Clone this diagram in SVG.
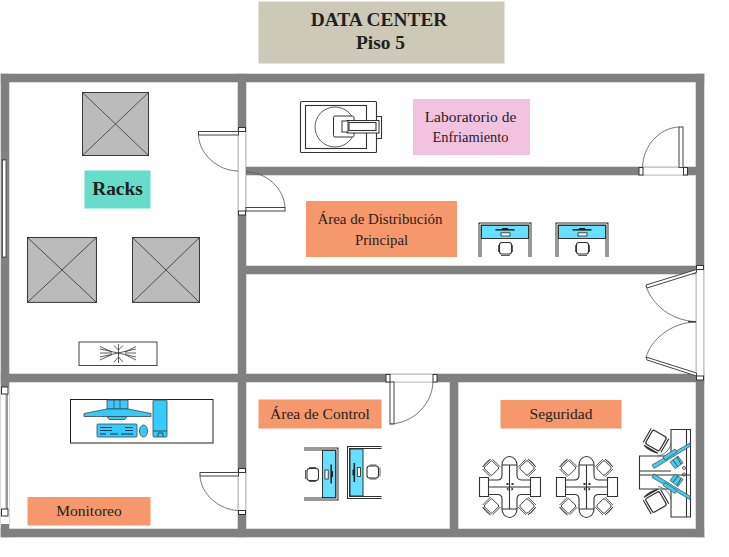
<svg xmlns="http://www.w3.org/2000/svg" xmlns:xlink="http://www.w3.org/1999/xlink" width="729" height="557" viewBox="0 0 729 557">
<style>
text{font-family:"Liberation Serif","Times New Roman",serif;fill:#1f1f1f;text-anchor:middle}
.l{font-size:15.5px}
.b{font-weight:bold;font-size:19.400px}
.wall{fill:#808080}
.gap{fill:#fff;stroke:#c8c8c8;stroke-width:1}
.hinge{fill:#fff;stroke:#333;stroke-width:1}
.leaf{fill:#fff;stroke:#444;stroke-width:1}
.arc{fill:none;stroke:#555;stroke-width:.8}
.rack{fill:#bbb;stroke:#3a3a3a;stroke-width:1}
.thin{fill:none;stroke:#333;stroke-width:.8}
.th{fill:none;stroke:#333;stroke-width:1.1}
.blue{fill:#66e0ff;stroke:#333;stroke-width:1}
.mon{fill:#33ccff;stroke:#444;stroke-width:.8}
.cb{fill:#44ccee;stroke:#444;stroke-width:.7}
</style>
<defs>
<g id="wallshape">
<rect class="wall" x="1" y="74" width="703" height="8"/>
<rect class="wall" x="1" y="74" width="8" height="463"/>
<rect class="wall" x="696" y="74" width="8" height="463"/>
<rect class="wall" x="1" y="529" width="703" height="8"/>
<rect class="wall" x="238" y="74" width="8" height="463"/>
<rect class="wall" x="246" y="167" width="450" height="8"/>
<rect class="wall" x="246" y="266" width="450" height="8"/>
<rect class="wall" x="1" y="374" width="703" height="8"/>
<rect class="wall" x="450" y="382" width="8" height="147"/>
</g>
<g id="rk"><rect class="rack" width="66" height="63"/><path class="thin" d="M0 0L66 63M66 0L0 63"/></g>
<g id="desk">
<path d="M1 34V1H51V34" fill="none" stroke="#333" stroke-width="3"/><path d="M1 34V1H51V34" fill="none" stroke="#fff" stroke-width="1"/>
<rect class="blue" x="2.500" y="2.500" width="47" height="13"/>
<rect x="16.500" y="6" width="19" height="1.600" fill="#222"/><rect x="23" y="5" width="6" height="1.500" fill="#222"/>
<rect x="22" y="9.800" width="9" height="3.200" fill="#fff" stroke="#222" stroke-width=".8"/>
<rect class="th" x="20.500" y="19.500" width="12" height="11.500" rx="2.500"/><path class="thin" d="M19.500 22V29M33.500 22V29M22 32.500H31"/>
</g>
<g id="chair"><rect x="-5.500" y="-5.500" width="11" height="11" rx="1.500" fill="#fff" stroke="#333" stroke-width=".9"/><path class="thin" d="M-7 -5.500V5.500Q-8.500 0 -7 -5.500M-5.500 -7H5.500M-5.500 7H5.500"/></g>
<g id="pod">
<path class="th" d="M-30 -9.500H-21V-7H-12Q-7.500 -7 -7.500 -12V-22A7.500 8.500 0 0 1 7.500 -22V-12Q7.500 -7 12 -7H21V-9.500H31V9.500H21V7.500H12Q7.500 7.500 7.500 12V22A7.500 8.500 0 0 1 -7.500 22V12Q-7.500 7.500 -12 7.500H-21V9.500H-30Z"/>
<path class="th" d="M0 -22V22M-21 0H21M-21 -7V7.500M21 -7V7.500M-7.500 -22H7.500M-7.500 22H7.500"/>
<path fill="#333" d="M-3 -4h2v2h-2zM2 -4h2v2h-2zM-3 2l2 2v-4zM4 2l-2 2v-4z"/>
<use xlink:href="#chair" href="#chair" transform="translate(-18 -19) rotate(45)"/>
<use xlink:href="#chair" href="#chair" transform="translate(17.500 -19) rotate(135)"/>
<use xlink:href="#chair" href="#chair" transform="translate(-18 19) rotate(-45)"/>
<use xlink:href="#chair" href="#chair" transform="translate(17.500 19) rotate(-135)"/>
</g>
<g id="cub">
<path class="arc" d="M658 456C664 455 670 450 671 443"/>
<path class="cb" d="M652 465L690 443L690.500 446L654 468.500Z"/>
<path class="cb" d="M663 457L675 449L677 452L665 460Z"/>
<path class="cb" d="M670 462L678 456L683 463L675 468.500Z"/><path class="thin" d="M673 460L678 467M677 457L681 464"/>
<circle class="thin" cx="684" cy="468" r="1.500"/>
<use xlink:href="#chair" href="#chair" transform="translate(656 440.500) rotate(-60) scale(1.450)"/>
</g>
</defs>

<g id="walls">
<use xlink:href="#wallshape" href="#wallshape" stroke="#b8b8b8" stroke-width="1"/>
<use xlink:href="#wallshape" href="#wallshape"/>
</g>

<g id="openings">
<rect x="1.500" y="159.500" width="7" height="98" fill="#fff" stroke="#777"/><rect x="5.500" y="160" width="3" height="97" fill="#888"/><rect x="2.500" y="160" width="3.500" height="97" fill="#fff" stroke="#333" stroke-width=".8"/>
<rect x="1" y="387" width="8" height="137" fill="#fff"/><rect x="5.500" y="392" width="2.500" height="122" fill="#999"/><rect class="hinge" x="1.500" y="387" width="6.500" height="7"/><rect class="hinge" x="1.500" y="509" width="6.500" height="7"/>
<rect class="gap" x="238.500" y="131" width="7" height="81"/>
<rect class="hinge" x="238.500" y="127.500" width="7" height="4"/><rect class="hinge" x="238.500" y="211" width="7" height="4"/>
<rect class="leaf" x="198.500" y="131.500" width="40" height="3.500"/><path class="arc" d="M198.500 135C199 154 218 171 238 171"/>
<rect class="leaf" x="246" y="207.500" width="39" height="3.500"/><path class="arc" d="M285 207.500C284 188 266 172 246 172"/>
<rect class="gap" x="642.500" y="167.500" width="41" height="7.500"/>
<rect class="hinge" x="639" y="167.500" width="4" height="7.500"/><rect class="hinge" x="683.500" y="167.500" width="4" height="7.500"/>
<rect class="leaf" x="679" y="127" width="4" height="40.500"/><path class="arc" d="M642.500 167.500C643 146 659 128 679 127"/>
<rect class="gap" x="389" y="374.500" width="45" height="7.500"/>
<rect class="hinge" x="386" y="374.500" width="4" height="7.500"/><rect class="hinge" x="433" y="374.500" width="4" height="7.500"/>
<rect class="leaf" x="390" y="382" width="4" height="42"/><path class="arc" d="M433 382C432 404 414 423 390 424"/>
<rect class="gap" x="238.500" y="472" width="7" height="39"/>
<rect class="hinge" x="238.500" y="468.500" width="7" height="4"/><rect class="hinge" x="238.500" y="510.500" width="7" height="4"/>
<rect class="leaf" x="200" y="472.500" width="38.500" height="3.500"/><path class="arc" d="M200 476C201 494 219 510 238.500 510.500"/>
<rect class="gap" x="696.500" y="269" width="7" height="108"/>
<rect class="hinge" x="696.500" y="265.500" width="7" height="4"/><rect class="hinge" x="696.500" y="376" width="7" height="4"/>
<path class="leaf" d="M646 285L696.500 269.500V272.500L647 288Z"/><path class="leaf" d="M646 357L696.500 373V376L647 360Z"/>
<path class="arc" d="M646 286C652 305 672 321 696 321.500"/><path class="arc" d="M646 358C650 340 672 322 696 322"/>
<rect x="688" y="321" width="8" height="1.500" fill="#444"/>
</g>

<g id="title"><rect x="258.500" y="1.500" width="246" height="62" fill="#ccc9b8"/><text class="b" x="379" y="26">DATA CENTER</text><text class="b" x="380.500" y="49">Piso 5</text></g>

<g id="racks">
<use xlink:href="#rk" href="#rk" transform="translate(82.500 92.500)"/>
<use xlink:href="#rk" transform="translate(27.500 237.500) scale(1.045 1.03)" href="#rk"/>
<use xlink:href="#rk" transform="translate(132.500 237.500) scale(1.015 1.03)" href="#rk"/>
<rect x="84.500" y="170.500" width="66" height="38" fill="#66dccb"/><text class="b" x="117.500" y="195">Racks</text>
</g>

<g id="ac"><rect x="79" y="342" width="78" height="23.500" fill="#fff" stroke="#444" stroke-width="1"/>
<path class="thin" d="M118.500 344V363M100 349L136 357M100 357L136 349M100 353H112M125 353H136M100 346.500L112 352M136 346.500L125 352M100 360L112 354.500M136 360L125 354.500M114 345.500L118.500 350L123 345.500M114 362L118.500 357L123 362"/></g>

<g id="monitoring"><rect x="70.500" y="399.500" width="142.500" height="43.500" fill="#fff" stroke="#222" stroke-width="1"/>
<path class="mon" d="M107 400H128V409H107ZM114 400V409M120 400V409"/>
<path class="mon" d="M107 409H128L151 413.500V416.500H84V413.500Z"/><path class="mon" d="M107 416.500H127L125 419.500H109Z"/>
<rect class="mon" x="97" y="424" width="40" height="13" rx="1"/><path stroke="#124" stroke-width=".9" fill="none" d="M100 427.500H112M125 427.500H133M100 430.500H112M125 430.500H133M100 434H106M110 434H118M121 434H133"/>
<ellipse class="mon" cx="143.500" cy="431" rx="4" ry="6"/>
<rect class="mon" x="153" y="400" width="14" height="37" rx="1"/><path class="thin" d="M153 431H167M158 437V433H163V437"/>
<rect x="27.500" y="497" width="123" height="28.500" fill="#f6986b"/><text class="l" x="89" y="516">Monitoreo</text></g>

<g id="lab"><rect class="th" x="300.500" y="101.500" width="76" height="51" rx="1"/><rect class="th" x="305.500" y="105.500" width="61" height="43"/><path class="th" d="M376.500 116.500H381.500V138.500H376.500"/>
<circle class="thin" cx="335" cy="127" r="20"/><rect x="333.500" y="116" width="20.500" height="21" rx="1.500" fill="#fff" stroke="#333" stroke-width="1"/>
<rect x="347" y="120.500" width="32" height="12.500" fill="#fff" stroke="#333" stroke-width="1"/><rect class="th" x="349" y="122.500" width="27" height="8"/>
<rect x="342" y="121" width="6" height="11" fill="#fff" stroke="#333" stroke-width="1"/>
<rect x="413" y="99" width="117" height="56" fill="#f2c2df"/><text class="l" x="470.500" y="122">Laboratorio de</text><text class="l" x="470.500" y="142" style="font-size:14.400px">Enfriamiento</text></g>

<g id="distribution"><rect x="306" y="201" width="151" height="56" fill="#f6986b"/><text class="l" x="380" y="224" style="font-size:14.900px">Área de Distribución</text><text class="l" x="381.500" y="245" style="font-size:14.700px">Principal</text>
<use xlink:href="#desk" href="#desk" transform="translate(479 223)"/><use xlink:href="#desk" href="#desk" transform="translate(556 223)"/></g>

<g id="control"><rect x="258.500" y="399.500" width="123" height="29" fill="#f6986b"/><text class="l" x="320" y="419">Área de Control</text>
<use xlink:href="#desk" href="#desk" transform="translate(338 448) rotate(90)"/>
<use xlink:href="#desk" href="#desk" transform="translate(347.500 498.500) rotate(-90)"/></g>

<g id="security"><rect x="500.500" y="400" width="121" height="28.500" fill="#f6986b"/><text class="l" x="561" y="419">Seguridad</text>
<use xlink:href="#pod" href="#pod" transform="translate(509.500 487)"/><use xlink:href="#pod" href="#pod" transform="translate(586.500 487)"/>
<path class="th" d="M671 456V429.500H690.500V517H671V489M671 456H639.500V489H671M639.500 471H671M639.500 475H690M686.500 429.500V517"/>
<use xlink:href="#cub" href="#cub"/>
<use xlink:href="#cub" href="#cub" transform="translate(0 942.500) scale(1 -1)"/>
</g>
</svg>
